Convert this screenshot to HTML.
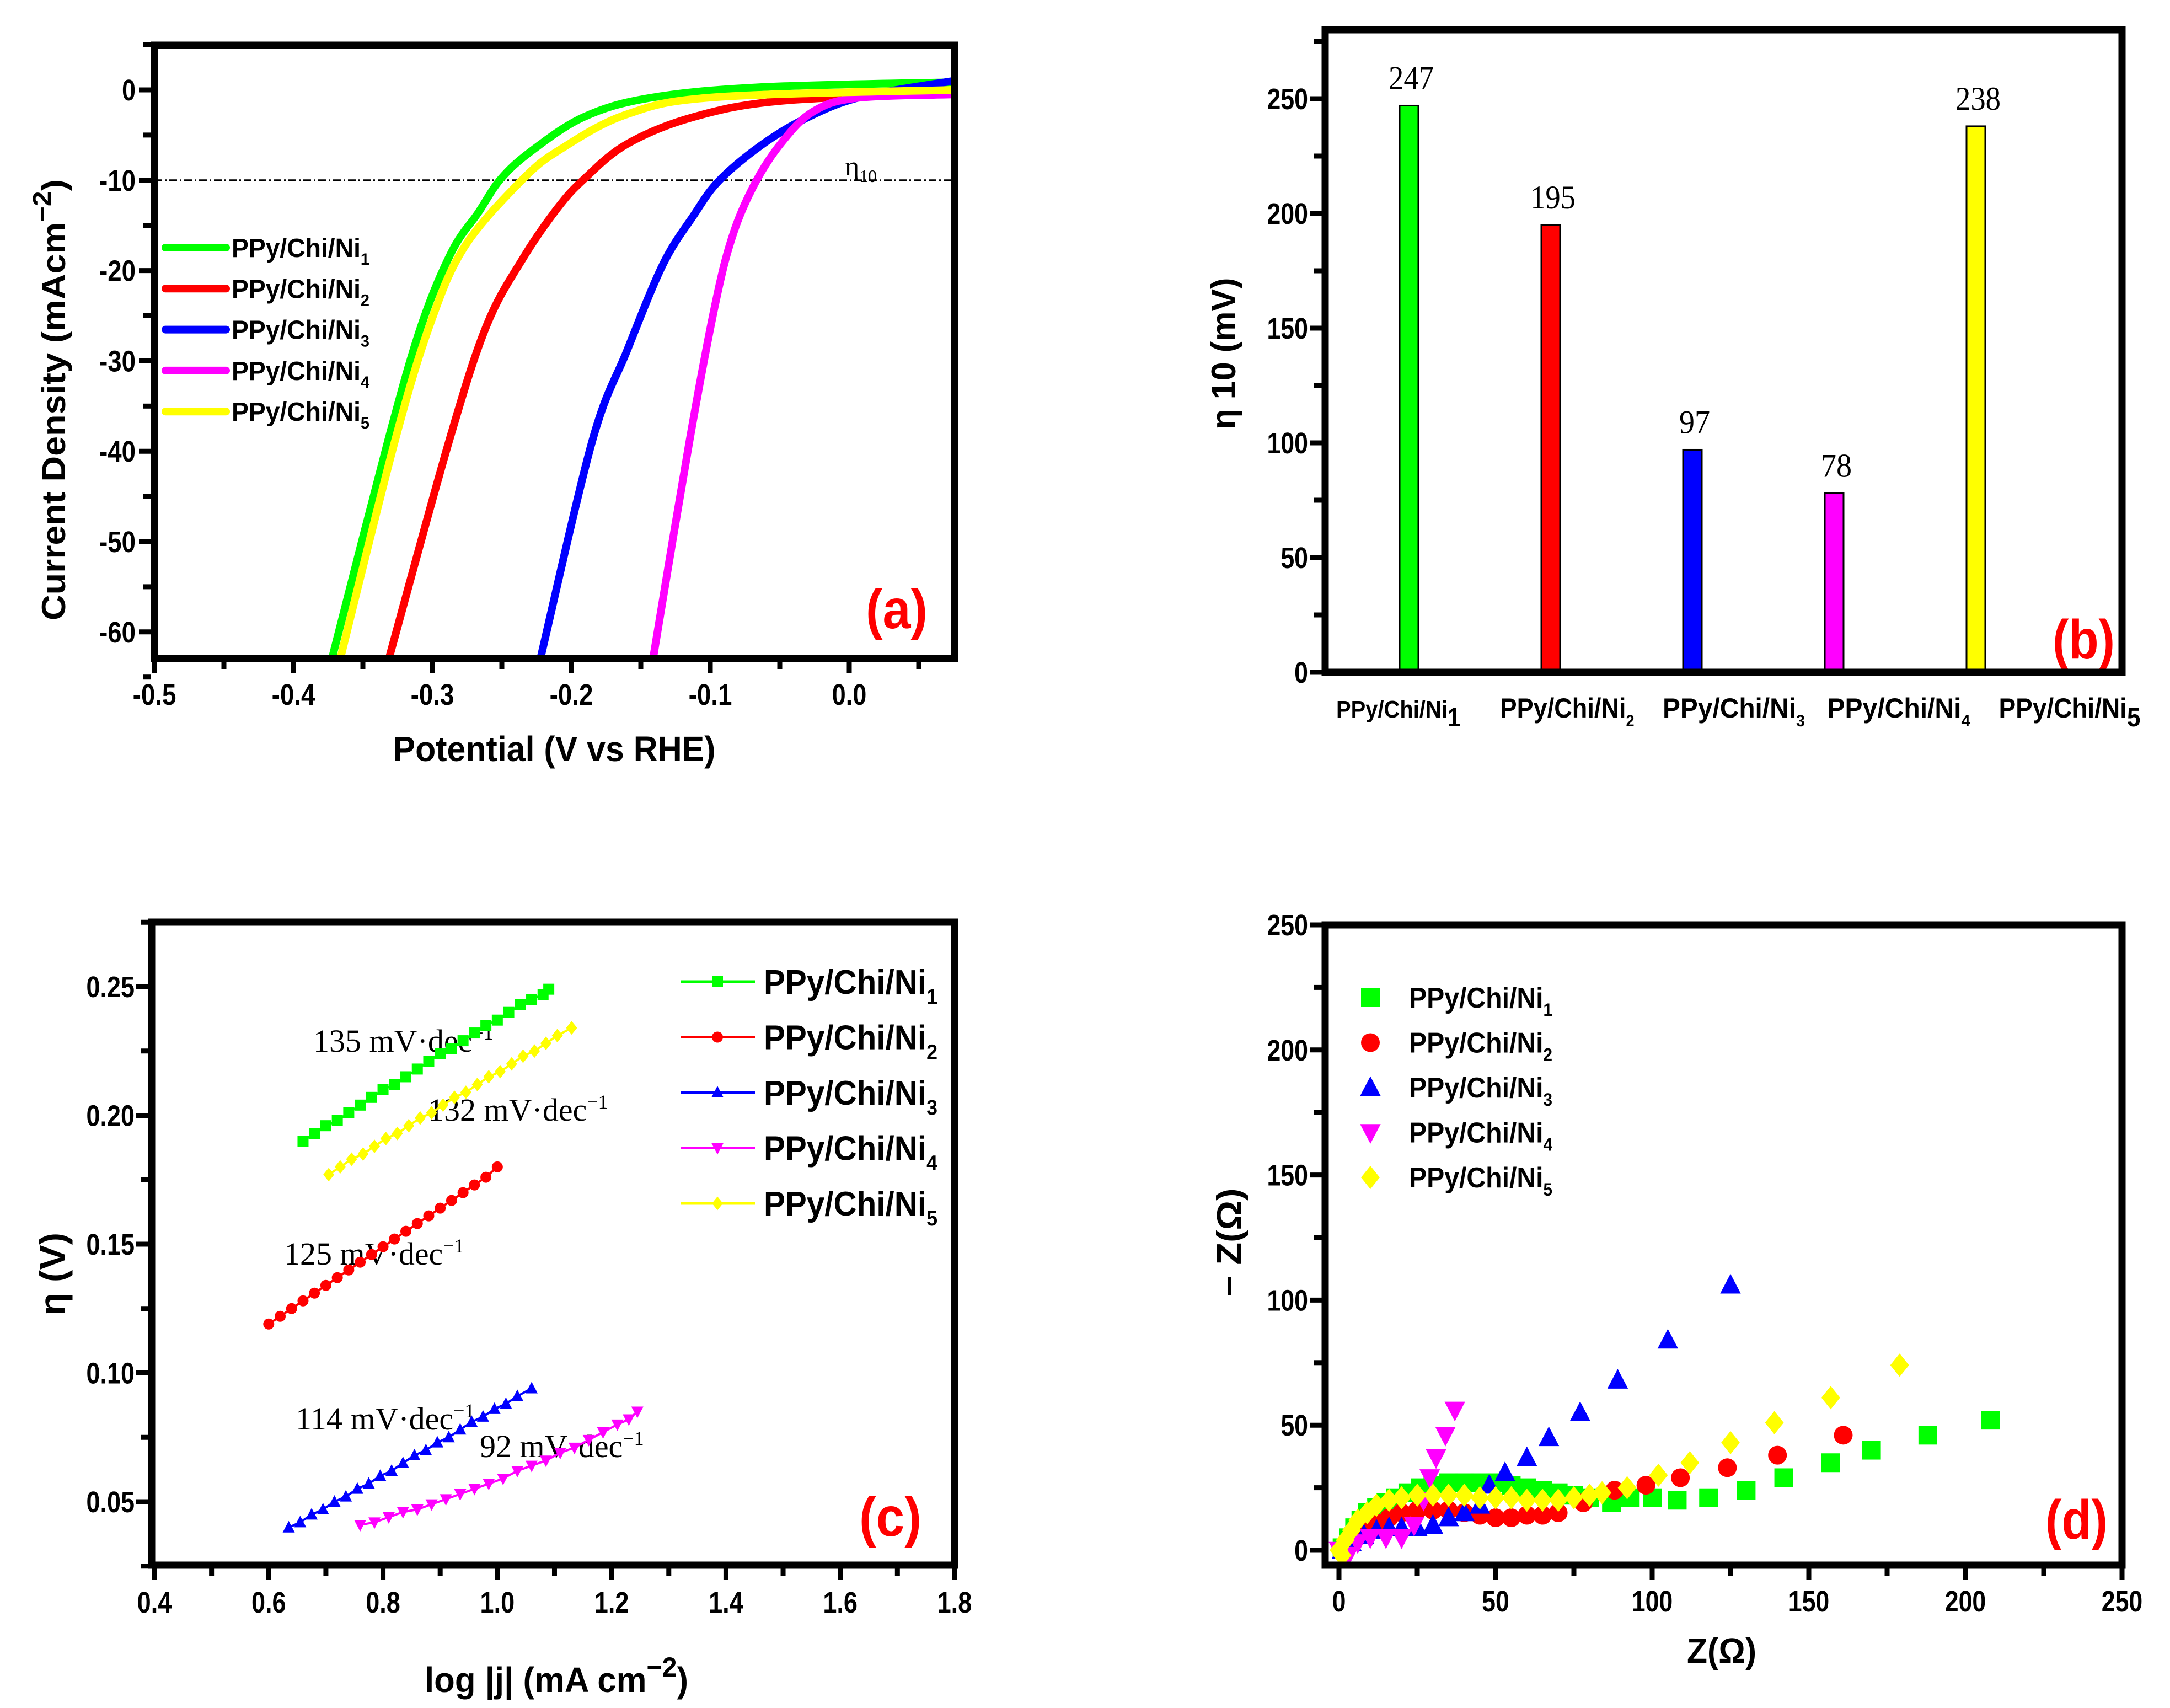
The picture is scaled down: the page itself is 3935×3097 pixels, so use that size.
<!DOCTYPE html>
<html><head><meta charset="utf-8"><title>HER performance panels</title>
<style>
html,body{margin:0;padding:0;background:#fff;overflow:hidden;}
svg{display:block;}
.tk{font-family:"Liberation Sans",sans-serif;font-weight:bold;}
.ser{font-family:"Liberation Serif",serif;}
.bold{font-family:"Liberation Sans",sans-serif;font-weight:bold;}
</style></head>
<body>
<svg id="chart" xmlns="http://www.w3.org/2000/svg" width="3935" height="3097" viewBox="0 0 3935 3097">
<rect x="0" y="0" width="3935" height="3097" fill="#fff"/>
<defs>
<clipPath id="clipA"><rect x="280" y="82" width="1451" height="1112"/></clipPath>
</defs>
<!-- Panel a static texts -->
<text class="bold" transform="translate(118,725) rotate(-90)" text-anchor="middle" font-size="60" textLength="800" lengthAdjust="spacingAndGlyphs">Current Density (mAcm<tspan dy="-26" font-size="46">−2</tspan><tspan dy="26">)</tspan></text>
<text class="tk" x="1005" y="1380" text-anchor="middle" font-size="64" textLength="585" lengthAdjust="spacingAndGlyphs">Potential (V vs RHE)</text>
<text class="ser" x="1532" y="318" font-size="50">η<tspan dy="12" font-size="32">10</tspan></text>
<text class="tk" x="1570" y="1139" font-size="100" fill="#f00" textLength="112" lengthAdjust="spacingAndGlyphs">(a)</text>
<!-- Panel b static -->
<text class="bold" transform="translate(2240,641) rotate(-90)" text-anchor="middle" font-size="62" textLength="275" lengthAdjust="spacingAndGlyphs">η 10 (mV)</text>
<text class="tk" x="3722" y="1194" font-size="100" fill="#f00" textLength="113" lengthAdjust="spacingAndGlyphs">(b)</text>
<!-- Panel c static -->
<text class="bold" transform="translate(118,2310) rotate(-90)" text-anchor="middle" font-size="66" textLength="150" lengthAdjust="spacingAndGlyphs">η (V)</text>
<text class="tk" x="1009" y="3068" text-anchor="middle" font-size="64" textLength="478" lengthAdjust="spacingAndGlyphs">log |j| (mA cm<tspan dy="-28" font-size="50">−2</tspan><tspan dy="28">)</tspan></text>
<text class="tk" x="1558" y="2785" font-size="100" fill="#f00" textLength="113" lengthAdjust="spacingAndGlyphs">(c)</text>
<text class="ser" x="568" y="1907" font-size="58">135 mV·dec<tspan dy="-22" font-size="36">−1</tspan></text>
<text class="ser" x="776" y="2032" font-size="58">132 mV·dec<tspan dy="-22" font-size="36">−1</tspan></text>
<text class="ser" x="515" y="2293" font-size="58">125 mV·dec<tspan dy="-22" font-size="36">−1</tspan></text>
<text class="ser" x="536" y="2592" font-size="58">114 mV·dec<tspan dy="-22" font-size="36">−1</tspan></text>
<text class="ser" x="870" y="2642" font-size="58">92 mV·dec<tspan dy="-22" font-size="36">−1</tspan></text>
<!-- Panel d static -->
<text class="bold" transform="translate(2250,2253) rotate(-90)" text-anchor="middle" font-size="62" textLength="197" lengthAdjust="spacingAndGlyphs">− Z(Ω)</text>
<text class="tk" x="3122" y="3015" text-anchor="middle" font-size="64" textLength="126" lengthAdjust="spacingAndGlyphs">Z(Ω)</text>
<text class="tk" x="3709" y="2790" font-size="100" fill="#f00" textLength="113" lengthAdjust="spacingAndGlyphs">(d)</text>
</svg>
<script>
// ---------- Panel (a) data: LSV curves ----------
const aNames = ['PPy/Chi/Ni1','PPy/Chi/Ni2','PPy/Chi/Ni3','PPy/Chi/Ni4','PPy/Chi/Ni5'];
const aPotNi1 = [-0.372,-0.332,-0.308,-0.286,-0.267,-0.251,-0.229,-0.191,-0.144,-0.064,0.075];
const aCurNi1 = [-62.8,-38.9,-26.1,-17.9,-13.6,-9.9,-6.8,-3.0,-0.9,0.3,0.85];
const aPotNi2 = [-0.331,-0.288,-0.261,-0.235,-0.210,-0.191,-0.160,-0.112,-0.048,0.075];
const aCurNi2 = [-62.8,-38.9,-26.1,-18.7,-13.1,-9.9,-6.0,-3.0,-1.2,-0.37];
const aPotNi3 = [-0.222,-0.185,-0.160,-0.134,-0.112,-0.094,-0.064,-0.032,0.008,0.075];
const aCurNi3 = [-62.8,-38.9,-28.9,-19.3,-13.9,-10.1,-6.2,-3.2,-0.8,1.0];
const aPotNi4 = [-0.141,-0.115,-0.096,-0.083,-0.067,-0.048,-0.026,0.005,0.075];
const aCurNi4 = [-62.8,-38.9,-23.4,-15.7,-10.1,-5.7,-2.4,-0.9,-0.5];
const aPotNi5 = [-0.366,-0.327,-0.302,-0.277,-0.235,-0.207,-0.160,-0.096,0.075];
const aCurNi5 = [-62.8,-38.9,-26.1,-17.4,-9.9,-6.5,-2.7,-0.8,0.0];
const aXTicks = [-0.5,-0.4,-0.3,-0.2,-0.1,0.0];
const aXTickLabels = ['-0.5','-0.4','-0.3','-0.2','-0.1','0.0'];
const aYTicks = [0,-10,-20,-30,-40,-50,-60];
const aYTickLabels = ['0','-10','-20','-30','-40','-50','-60'];
const aRefLevel = -10;

// ---------- Panel (b) data: overpotential bars ----------
const bCategories = ['PPy/Chi/Ni1','PPy/Chi/Ni2','PPy/Chi/Ni3','PPy/Chi/Ni4','PPy/Chi/Ni5'];
const bValues = [247,195,97,78,238];
const bYTicks = [0,50,100,150,200,250];
const bYTickLabels = ['0','50','100','150','200','250'];

// ---------- Panel (c) data: Tafel ----------
const cLogNi1 = [0.66,0.68,0.70,0.72,0.74,0.76,0.78,0.80,0.82,0.84,0.86,0.88,0.90,0.92,0.94,0.96,0.98,1.00,1.02,1.04,1.06,1.08,1.09];
const cEtaNi1 = [0.190,0.193,0.196,0.198,0.201,0.204,0.207,0.210,0.212,0.215,0.218,0.221,0.224,0.226,0.229,0.232,0.235,0.237,0.240,0.243,0.245,0.247,0.249];
const cLogNi2 = [0.60,0.62,0.64,0.66,0.68,0.70,0.72,0.74,0.76,0.78,0.80,0.82,0.84,0.86,0.88,0.90,0.92,0.94,0.96,0.98,1.00];
const cEtaNi2 = [0.119,0.122,0.125,0.128,0.131,0.134,0.137,0.140,0.143,0.146,0.149,0.152,0.155,0.158,0.161,0.164,0.167,0.170,0.173,0.176,0.180];
const cLogNi3 = [0.635,0.655,0.675,0.695,0.715,0.735,0.755,0.775,0.795,0.815,0.835,0.855,0.875,0.895,0.915,0.935,0.955,0.975,0.995,1.015,1.035,1.06];
const cEtaNi3 = [0.040,0.042,0.045,0.047,0.050,0.052,0.055,0.057,0.060,0.062,0.065,0.068,0.070,0.073,0.075,0.078,0.081,0.083,0.086,0.088,0.091,0.094];
const cLogNi4 = [0.76,0.785,0.81,0.835,0.86,0.885,0.91,0.935,0.96,0.985,1.01,1.035,1.06,1.085,1.11,1.135,1.16,1.185,1.21,1.23,1.245];
const cEtaNi4 = [0.041,0.042,0.044,0.046,0.047,0.049,0.051,0.053,0.055,0.057,0.059,0.062,0.064,0.066,0.069,0.071,0.074,0.077,0.080,0.082,0.085];
const cLogNi5 = [0.705,0.725,0.745,0.765,0.785,0.805,0.825,0.845,0.865,0.885,0.905,0.925,0.945,0.965,0.985,1.005,1.025,1.045,1.065,1.085,1.105,1.13];
const cEtaNi5 = [0.177,0.180,0.183,0.185,0.188,0.191,0.193,0.196,0.199,0.201,0.204,0.207,0.209,0.212,0.215,0.217,0.220,0.223,0.225,0.228,0.231,0.234];
const cXTicks = [0.4,0.6,0.8,1.0,1.2,1.4,1.6,1.8];
const cXTickLabels = ['0.4','0.6','0.8','1.0','1.2','1.4','1.6','1.8'];
const cYTicks = [0.05,0.10,0.15,0.20,0.25];
const cYTickLabels = ['0.05','0.10','0.15','0.20','0.25'];

// ---------- Panel (d) data: Nyquist ----------
const dReNi1 = [1,3,5,7,9,12,15,18,22,26,30,35,40,45,50,55,60,65,70,75,80,87,93,100,108,118,130,142,157,170,188,208];
const dImNi1 = [1,5,9,12,15,17,19,21,23,25,26,27,27,27,27,26,25,24,23,22,21,19,21,21,20,21,24,29,35,40,46,52];
const dReNi2 = [2,5,8,12,16,20,25,30,35,40,45,50,55,60,65,70,78,88,98,109,124,140,161];
const dImNi2 = [2,6,9,11,13,15,16,16,16,15,14,13,13,14,14,15,19,24,26,29,33,38,46];
const dReNi3 = [1,4,8,12,16,20,25,30,35,40,45,48,53,60,67,77,89,105,125];
const dImNi3 = [0,3,6,8,9,9,9,10,13,15,18,26,31,37,45,55,68,84,106];
const dReNi4 = [0,3,6,10,15,20,24,27,29,31,34,37];
const dImNi4 = [0,-2,3,5,5,5,10,20,29,37,46,56];
const dReNi5 = [0,1,2,4,6,9,12,16,20,25,30,35,40,45,50,55,60,65,70,75,80,84,92,102,112,125,139,157,179];
const dImNi5 = [0,-2,4,8,12,15,18,20,21,22,22,22,22,21,21,21,20,20,20,21,22,23,25,30,35,43,51,61,74];
const dXTicks = [0,50,100,150,200,250];
const dXTickLabels = ['0','50','100','150','200','250'];
const dYTicks = [0,50,100,150,200,250];
const dYTickLabels = ['0','50','100','150','200','250'];

const NS = 'http://www.w3.org/2000/svg';
const svg = document.getElementById('chart');
function mk(tag, attrs, parent){
  const e = document.createElementNS(NS, tag);
  for (const k in attrs) e.setAttribute(k, attrs[k]);
  (parent || svg).appendChild(e);
  return e;
}
const colors = ['#00ff00','#ff0000','#0000ff','#ff00ff','#ffff00'];
const legendNames = ['ni1','ni2','ni3','ni4','ni5'];

// axis scales
const xA = v => 280 + (v + 0.5) * 2520;
const yA = v => 163 - v * 16.38;
const yB = v => 1219 - v * 4.16;
const xB = i => 2555 + i * 257;
const xC = v => 280 + (v - 0.4) * 1036.4;
const yC = v => 2723 - (v - 0.05) * 4670;
const xD = v => 2428 + v * 5.68;
const yD = v => 2811 - v * 4.536;

function frame(x0, y0, x1, y1, name){
  const r = mk('rect', {x:x0, y:y0, width:x1-x0, height:y1-y0, fill:'none', stroke:'#000', 'stroke-width':13});
  
  
}
function xTick(x, yb, major, name){
  const t = mk('line', {x1:x, x2:x, y1:yb, y2:yb + (major ? 20 : 13), stroke:'#000', 'stroke-width':9});
  
  
}
function yTick(y, xl, major, name){
  const t = mk('line', {x1:xl, x2:xl - (major ? 22 : 14), y1:y, y2:y, stroke:'#000', 'stroke-width':9});
  
  
}
function textWidth(txt, size){
  let w = 0;
  for (const ch of txt) w += (ch === '.' ? 0.24 : ch === '-' ? 0.3 : 0.46) * size;
  return w;
}
function label(x, y, txt, anchor, size, name){
  const t = mk('text', {x:x, y:y, 'text-anchor':anchor, 'font-size':size, class:'tk', textLength:textWidth(txt, size), lengthAdjust:'spacingAndGlyphs'});
  t.textContent = txt;
  
  
  return t;
}
function subLabel(x, y, base, sub, size, subSize, dy, anchor, len, name){
  const t = mk('text', {x:x, y:y, 'font-size':size, class:'tk', 'text-anchor':anchor || 'start', textLength:len, lengthAdjust:'spacingAndGlyphs'});
  const a = mk('tspan', {}, t); a.textContent = base;
  const b = mk('tspan', {dy:dy, 'font-size':subSize}, t); b.textContent = sub;
  
  
  return t;
}
function smoothPath(pts){
  let d = 'M' + pts[0][0] + ',' + pts[0][1];
  for (let i = 0; i < pts.length - 1; i++){
    const p0 = pts[i-1] || pts[i], p1 = pts[i], p2 = pts[i+1], p3 = pts[i+2] || p2;
    const c1 = [p1[0] + (p2[0]-p0[0])/6, p1[1] + (p2[1]-p0[1])/6];
    const c2 = [p2[0] - (p3[0]-p1[0])/6, p2[1] - (p3[1]-p1[1])/6];
    d += 'C' + c1 + ' ' + c2 + ' ' + p2;
  }
  return d;
}
function marker(shape, x, y, s, fill, parent){
  let m;
  if (shape === 'square') m = mk('rect', {x:x-s/2, y:y-s/2, width:s, height:s, fill:fill}, parent);
  else if (shape === 'circle') m = mk('circle', {cx:x, cy:y, r:s/2, fill:fill}, parent);
  else if (shape === 'up') m = mk('polygon', {points:`${x},${y-s*0.6} ${x-s*0.55},${y+s*0.45} ${x+s*0.55},${y+s*0.45}`, fill:fill}, parent);
  else if (shape === 'down') m = mk('polygon', {points:`${x},${y+s*0.6} ${x-s*0.55},${y-s*0.45} ${x+s*0.55},${y-s*0.45}`, fill:fill}, parent);
  else m = mk('polygon', {points:`${x},${y-s*0.62} ${x-s*0.5},${y} ${x},${y+s*0.62} ${x+s*0.5},${y}`, fill:fill}, parent);
  return m;
}
const shapes = ['square','circle','up','down','diamond'];

// ================= Panel (a) =================
const aPots = [aPotNi1, aPotNi2, aPotNi3, aPotNi4, aPotNi5];
const aCurs = [aCurNi1, aCurNi2, aCurNi3, aCurNi4, aCurNi5];
const refLine = mk('line', {x1:280, x2:1731, y1:yA(aRefLevel), y2:yA(aRefLevel), stroke:'#000', 'stroke-width':3, 'stroke-dasharray':'14 5 3 5'});


const gA = mk('g', {'clip-path':'url(#clipA)'});


[0,1,2,3,4].forEach(i => {
  const pts = aPots[i].map((p, k) => [xA(p), yA(aCurs[i][k])]);
  const path = mk('path', {d:smoothPath(pts), fill:'none', stroke:colors[i], 'stroke-width':14, 'stroke-linecap':'round'}, gA);
  
  
});
frame(280, 82, 1731, 1194, 'plot-frame-a');
aXTicks.forEach((v, i) => {
  xTick(xA(v), 1200, true, 'x-tick-a');
  label(xA(v), 1278, aXTickLabels[i], 'middle', 54, 'x-tick-label-a');
  xTick(xA(v + 0.05), 1200, false, 'x-minor-tick-a');
});
aYTicks.forEach((v, i) => {
  yTick(yA(v), 274, true, 'y-tick-a');
  label(246, yA(v) + 19, aYTickLabels[i], 'end', 54, 'y-tick-label-a');
  yTick(yA(v + 5), 274, false, 'y-minor-tick-a');
});
yTick(yA(-65) , 274, false, 'y-minor-tick-a');
aNames.forEach((n, i) => {
  const y = 449 + i * 74.3;
  const l = mk('line', {x1:300, x2:410, y1:y, y2:y, stroke:colors[i], 'stroke-width':14, 'stroke-linecap':'round'});
  
  
  subLabel(420, y + 17, 'PPy/Chi/Ni', String(i + 1), 48, 30, 14, 'start', 250, 'legend-label-a-' + legendNames[i]);
});

// ================= Panel (b) =================
bValues.forEach((v, i) => {
  const r = mk('rect', {x:xB(i) - 17, y:yB(v), width:34, height:yB(0) - yB(v), fill:colors[i], stroke:'#000', 'stroke-width':3});
  
  
  const t = mk('text', {x:xB(i) + 4, y:yB(v) - 30, 'text-anchor':'middle', 'font-size':60, class:'ser', textLength:82, lengthAdjust:'spacingAndGlyphs'});
  if (String(v).length < 3) t.setAttribute('textLength', 56);
  t.textContent = String(v);
  
  
});
frame(2403, 54, 3848, 1219, 'plot-frame-b');
bYTicks.forEach((v, i) => {
  yTick(yB(v), 2397, true, 'y-tick-b');
  label(2372, yB(v) + 19, bYTickLabels[i], 'end', 54, 'y-tick-label-b');
  yTick(yB(v + 25), 2397, false, 'y-minor-tick-b');
});
const bLabelX = [2536, 2842, 3144, 3443, 3753];
const bLabelLen = [226, 243, 258, 259, 257];
bCategories.forEach((c, i) => {
  subLabel(bLabelX[i], 1301, 'PPy/Chi/Ni', c.slice(-1), i === 0 ? 44 : 50, i === 0 || i === 4 ? 48 : 30, 16, 'middle', bLabelLen[i], 'category-label-' + legendNames[i]);
});

// ================= Panel (c) =================
const cLogs = [cLogNi1, cLogNi2, cLogNi3, cLogNi4, cLogNi5];
const cEtas = [cEtaNi1, cEtaNi2, cEtaNi3, cEtaNi4, cEtaNi5];
[0,1,2,3,4].forEach(i => {
  const g = mk('g', {});
  
  
  const pts = cLogs[i].map((x, k) => [xC(x), yC(cEtas[i][k])]);
  const pl = mk('polyline', {points:pts.map(p => p.join(',')).join(' '), fill:'none', stroke:colors[i], 'stroke-width':4}, g);
  
  
  pts.forEach(p => {
    const m = marker(shapes[i], p[0], p[1], 20, colors[i], g);
    
    
  });
});
frame(275, 1672, 1731, 2838, 'plot-frame-c');
cXTicks.forEach((v, i) => {
  xTick(xC(v), 2844, true, 'x-tick-c');
  label(xC(v), 2924, cXTickLabels[i], 'middle', 54, 'x-tick-label-c');
  if (v < 1.8) xTick(xC(v + 0.1), 2844, false, 'x-minor-tick-c');
});
cYTicks.forEach((v, i) => {
  yTick(yC(v), 269, true, 'y-tick-c');
  label(244, yC(v) + 19, cYTickLabels[i], 'end', 54, 'y-tick-label-c');
  yTick(yC(v + 0.025), 269, false, 'y-minor-tick-c');
});
yTick(yC(0.025), 269, false, 'y-minor-tick-c');
aNames.forEach((n, i) => {
  const y = 1780 + i * 100.5;
  const l = mk('line', {x1:1234, x2:1369, y1:y, y2:y, stroke:colors[i], 'stroke-width':5});
  
  
  const m = marker(shapes[i], 1301, y, 20, colors[i]);
  
  
  subLabel(1385, y + 22, 'PPy/Chi/Ni', String(i + 1), 62, 38, 18, 'start', 315, 'legend-label-c-' + legendNames[i]);
});

// ================= Panel (d) =================
const dRes = [dReNi1, dReNi2, dReNi3, dReNi4, dReNi5];
const dIms = [dImNi1, dImNi2, dImNi3, dImNi4, dImNi5];
[0,1,2,3,4].forEach(i => {
  const g = mk('g', {});
  
  
  dRes[i].forEach((x, k) => {
    const m = marker(shapes[i], xD(x), yD(dIms[i][k]), 34, colors[i], g);
    
    
  });
});
frame(2403, 1677, 3848, 2838, 'plot-frame-d');
dXTicks.forEach((v, i) => {
  xTick(xD(v), 2844, true, 'x-tick-d');
  label(xD(v), 2922, dXTickLabels[i], 'middle', 54, 'x-tick-label-d');
  if (v < 250) xTick(xD(v + 25), 2844, false, 'x-minor-tick-d');
});
dYTicks.forEach((v, i) => {
  yTick(yD(v), 2397, true, 'y-tick-d');
  label(2372, yD(v) + 19, dYTickLabels[i], 'end', 54, 'y-tick-label-d');
  if (v < 250) yTick(yD(v + 25), 2397, false, 'y-minor-tick-d');
});
aNames.forEach((n, i) => {
  const y = 1809 + i * 81.5;
  const m = marker(shapes[i], 2485, y, 34, colors[i]);
  
  
  subLabel(2555, y + 18, 'PPy/Chi/Ni', String(i + 1), 52, 32, 15, 'start', 260, 'legend-label-d-' + legendNames[i]);
});
</script>
</body></html>
